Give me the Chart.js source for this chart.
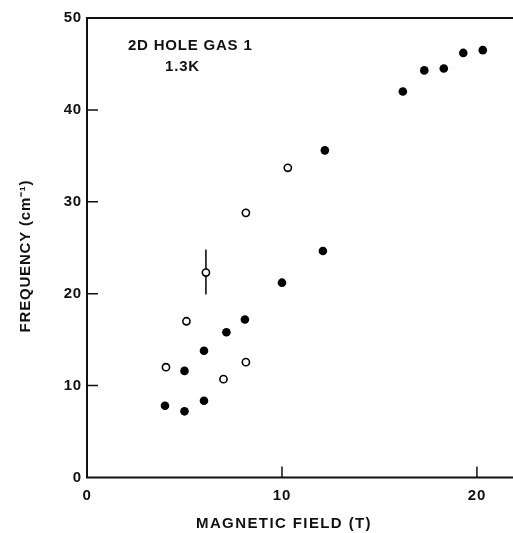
<!DOCTYPE html>
<html>
<head>
<meta charset="utf-8">
<script src="https://cdn.jsdelivr.net/npm/chart.js@4/dist/chart.umd.min.js"></script>
<style>
  body { margin: 0; background: #fff; }
</style>
</head>
<body>
<canvas id="myChart" width="513" height="533"></canvas>
<script>
// filled circles
const filledField = [4.0, 5.0, 6.0, 5.0, 6.0, 7.15, 8.1, 10.0, 12.1, 12.2, 16.2, 17.3, 18.3, 19.3, 20.3];
const filledFreq  = [7.8, 7.2, 8.35, 11.6, 13.8, 15.8, 17.2, 21.2, 24.65, 35.6, 42.0, 44.3, 44.5, 46.2, 46.5];
// open circles
const openField = [4.05, 5.1, 6.1, 7.0, 8.15, 8.15, 10.3];
const openFreq  = [12.0, 17.0, 22.3, 10.7, 12.55, 28.8, 33.7];
// error bar on the 6.1 T open point
const errField = [6.1, 6.1];
const errFreq  = [19.9, 24.8];

const xTicks = [0, 10, 20];
const yTicks = [0, 10, 20, 30, 40, 50];
const label1 = '2D HOLE GAS 1';
const label2 = '1.3K';
const xTitle = 'MAGNETIC FIELD (T)';
const yTitle = 'FREQUENCY (cm⁻¹)';

const FONT = '"Liberation Sans", Arial, sans-serif';

const toPts = (xs, ys) => xs.map((x, i) => ({x: x, y: ys[i]}));

// wider lettering like the original plot
const spacing = {
  id: 'spacing',
  beforeDraw(chart) { chart.ctx.letterSpacing = '0.8px'; }
};

// axis frame + inward ticks + titles + label text
const frame = {
  id: 'frame',
  beforeDatasetsDraw(chart) {
    const ctx = chart.ctx;
    const a = chart.chartArea;
    const xs = chart.scales.x, ys = chart.scales.y;
    ctx.save();
    ctx.strokeStyle = '#111';
    ctx.lineWidth = 2;
    ctx.beginPath();
    ctx.moveTo(a.right, a.top);
    ctx.lineTo(a.left, a.top);
    ctx.lineTo(a.left, a.bottom);
    ctx.lineTo(a.right, a.bottom);
    ctx.stroke();
    ctx.lineWidth = 1.5;
    ctx.beginPath();
    xTicks.forEach(v => {
      if (v === 0) return;
      const px = xs.getPixelForValue(v);
      ctx.moveTo(px, a.bottom);
      ctx.lineTo(px, a.bottom - 11);
    });
    yTicks.forEach(v => {
      if (v === 0 || v === 50) return;
      const py = ys.getPixelForValue(v);
      ctx.moveTo(a.left, py);
      ctx.lineTo(a.left + 11, py);
    });
    ctx.stroke();

    ctx.fillStyle = '#111';
    ctx.font = 'bold 15px ' + FONT;
    ctx.textBaseline = 'middle';
    ctx.textAlign = 'left';
    ctx.fillText(label1, xs.getPixelForValue(2.1), ys.getPixelForValue(47.0));
    ctx.textAlign = 'center';
    ctx.fillText(label2, xs.getPixelForValue(4.9), ys.getPixelForValue(44.7));

    // axis titles
    ctx.letterSpacing = '1.4px';
    ctx.fillText(xTitle, 284, 524);
    ctx.translate(26, 256);
    ctx.rotate(-Math.PI / 2);
    ctx.letterSpacing = '0.8px';
    ctx.fillText(yTitle, 0, 0);
    ctx.restore();
  }
};

const tickFont = {family: FONT, size: 15, weight: 'bold'};

new Chart('myChart', {
  type: 'scatter',
  data: {
    datasets: [{
      data: toPts(filledField, filledFreq),
      pointRadius: 4.3,
      pointBackgroundColor: '#000',
      pointBorderColor: '#000',
      pointBorderWidth: 0,
      order: 1
    }, {
      data: toPts(openField, openFreq),
      pointRadius: 3.6,
      pointBackgroundColor: '#fff',
      pointBorderColor: '#000',
      pointBorderWidth: 1.6,
      order: 1
    }, {
      type: 'line',
      data: toPts(errField, errFreq),
      borderColor: '#000',
      borderWidth: 1.5,
      pointRadius: 0,
      showLine: true,
      fill: false,
      order: 5
    }]
  },
  options: {
    responsive: false,
    animation: false,
    layout: {autoPadding: false, padding: {top: 18, right: 0, left: 0, bottom: 0}},
    plugins: {
      legend: {display: false},
      tooltip: {enabled: false}
    },
    scales: {
      x: {
        type: 'linear',
        min: 0,
        max: 21.85,
        afterBuildTicks: s => { s.ticks = xTicks.map(v => ({value: v})); },
        afterFit: s => { s.height = 55.5; s.paddingLeft = 0; s.paddingRight = 0; },
        grid: {display: false, drawTicks: false},
        border: {display: false},
        ticks: {
          color: '#111',
          padding: 9,
          maxRotation: 0,
          font: tickFont
        }
      },
      y: {
        type: 'linear',
        min: 0,
        max: 50,
        afterBuildTicks: s => { s.ticks = yTicks.map(v => ({value: v})); },
        afterFit: s => { s.width = 87; },
        grid: {display: false, drawTicks: false},
        border: {display: false},
        ticks: {
          color: '#111',
          padding: 5,
          font: tickFont
        }
      }
    }
  },
  plugins: [spacing, frame]
});
</script>
</body>
</html>
